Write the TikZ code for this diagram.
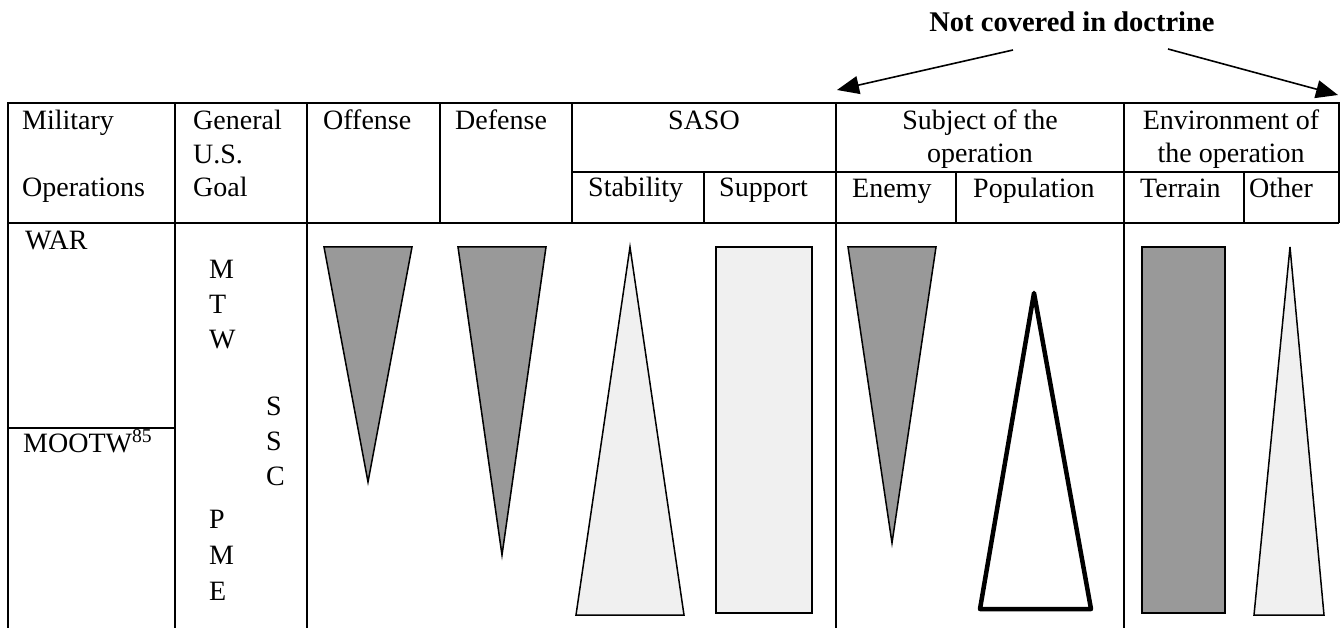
\documentclass[tikz,border=0pt]{standalone}
\usepackage{fontspec}
\setmainfont{Liberation Serif}
\usetikzlibrary{positioning, arrows.meta}
\definecolor{darkfill}{HTML}{999999}
\definecolor{lightfill}{HTML}{F0F0F0}
\begin{document}
\begin{tikzpicture}[x=1pt, y=-1pt,
cell/.style={anchor=base west, inner sep=0pt, font=\fontsize{28}{34}\selectfont},
ccell/.style={cell, anchor=base},
grid/.style={line width=2pt},
dark/.style={fill=darkfill, draw=black, line width=1.5pt},
light/.style={fill=lightfill, draw=black, line width=1.5pt},
hollow/.style={draw=black, line width=4.5pt, line join=round},
pointer/.style={-{Triangle[length=22pt,width=18pt]}, line width=1.6pt}
]
\useasboundingbox (0,0) rectangle (1342,628);

%Lines
\draw[grid] (8,628) -- (8,103) -- (1339,103) -- (1339,223);
\draw[grid] (8,223) -- (1339,223);
\draw[grid] (572,172) -- (1339,172);
\draw[grid] (8,428) -- (175,428);
\foreach \xx in {175, 307, 836, 1124}
  \draw[grid] (\xx,103) -- (\xx,628);
\foreach \xx in {440, 572}
  \draw[grid] (\xx,103) -- (\xx,223);
\foreach \xx in {704, 956, 1244}
  \draw[grid] (\xx,172) -- (\xx,223);

%Nodes
\node[cell]  (mil)   at (22,130)  {Military};
\node[cell]  (ops)   at (22,197)  {Operations};
\node[cell]  (gen)   at (193,130) {General};
\node[cell]  (uss)   at (193,164) {U.S.};
\node[cell]  (goal)  at (193,197) {Goal};
\node[cell]  (off)   at (323,130) {Offense};
\node[cell]  (def)   at (455,130) {Defense};
\node[ccell] (saso)  at (704,130) {SASO};
\node[cell]  (stab)  at (588,197) {Stability};
\node[cell]  (supp)  at (719,197) {Support};
\node[ccell] (subjA) at (980,130) {Subject of the};
\node[ccell] (subjB) at (980,163) {operation};
\node[ccell] (envA)  at (1231,130) {Environment of};
\node[ccell] (envB)  at (1231,163) {the operation};
\node[cell]  (enemy) at (852,198) {Enemy};
\node[cell]  (popu)  at (973,198) {Population};
\node[cell]  (terr)  at (1140,198) {Terrain};
\node[cell]  (other) at (1249,198) {Other};

\node[cell]  (war)   at (25,250)  {WAR};
\node[cell]  (mootw) at (23,452)  {MOOTW\textsuperscript{85}};
\foreach \ch/\xx/\yy [count=\i] in {M/209/279, T/209/314, W/209/349,
    S/266/415, S/266/450, C/266/485, P/209/528, M/209/564, E/209/600}
  \node[cell] (goal\i) at (\xx,\yy) {\ch};

%Shapes
\draw[dark]  (324,247) -- (412,247) -- (368,482) -- cycle;
\draw[dark]  (458,247) -- (546,247) -- (502,555) -- cycle;
\draw[light] (630,247) -- (684,615) -- (576,615) -- cycle;
\draw[light] (716,247) rectangle (812,613);
\draw[dark]  (848,247) -- (936,247) -- (892,543) -- cycle;
\draw[hollow] (1034,293) -- (1091,609) -- (980,609) -- cycle;
\draw[dark]  (1142,247) rectangle (1225,613);
\draw[light] (1290,247) -- (1324,615) -- (1254,615) -- cycle;

%Pointers
\node[cell, anchor=base, font=\fontsize{28.5}{34}\selectfont\bfseries] (ncd) at (1072,32) {Not covered in doctrine};
\coordinate (fromL) at ([xshift=-59pt, yshift=-18pt]ncd.base);
\coordinate (fromR) at ([xshift=96pt, yshift=-17pt]ncd.base);
\coordinate (tipL) at (837,90);
\coordinate (tipR) at (1338,95);
\draw[pointer] (fromL) -- (tipL);
\draw[pointer] (fromR) -- (tipR);
\end{tikzpicture}
\end{document}
